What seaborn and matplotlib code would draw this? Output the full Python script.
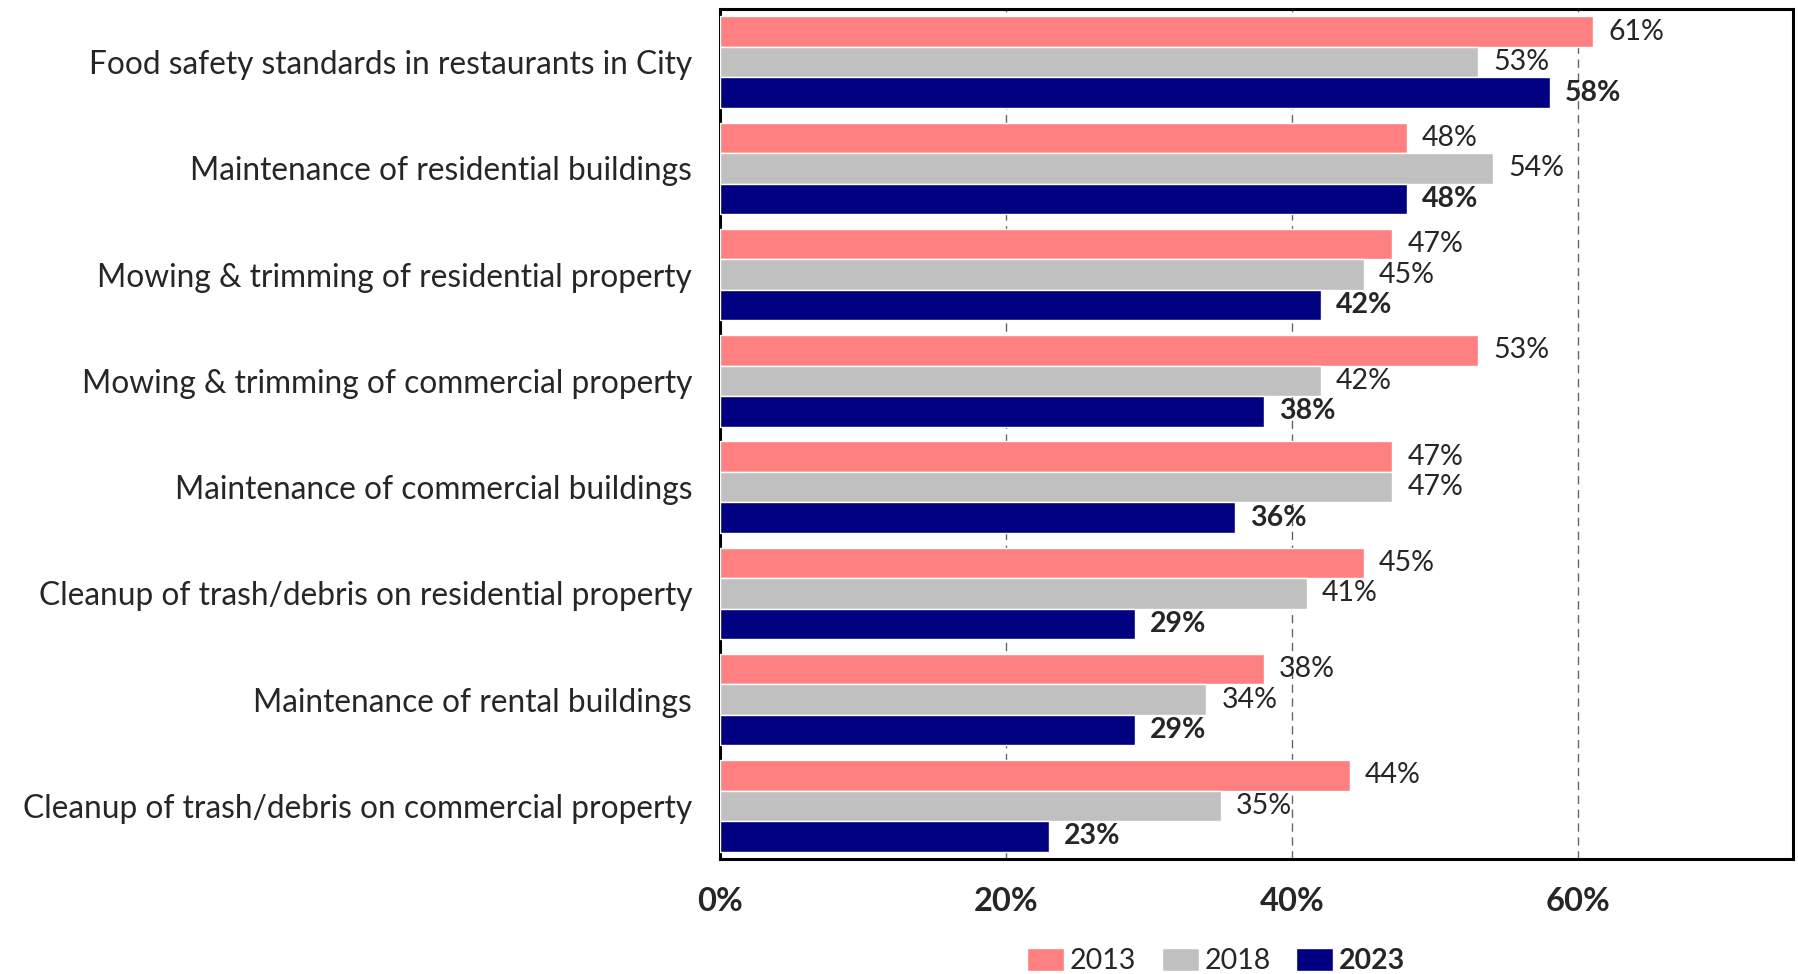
import matplotlib
matplotlib.use("Agg")
import matplotlib.pyplot as plt
import pandas as pd
import seaborn as sns

# Survey items, top to bottom
categories = [
    "Food safety standards in restaurants in City",
    "Maintenance of residential buildings",
    "Mowing & trimming of residential property",
    "Mowing & trimming of commercial property",
    "Maintenance of commercial buildings",
    "Cleanup of trash/debris on residential property",
    "Maintenance of rental buildings",
    "Cleanup of trash/debris on commercial property",
]
years = ["2013", "2018", "2023"]
values_2013 = [61, 48, 47, 53, 47, 45, 38, 44]
values_2018 = [53, 54, 45, 42, 47, 41, 34, 35]
values_2023 = [58, 48, 42, 38, 36, 29, 29, 23]
x_ticks = [0, 20, 40, 60]
x_tick_labels = ["0%", "20%", "40%", "60%"]

colors = ["#FF8080", "#C0C0C0", "#000080"]

df = pd.DataFrame({
    "item": categories * 3,
    "year": [y for y in years for _ in categories],
    "value": values_2013 + values_2018 + values_2023,
})

sns.set_style("white")
plt.rcParams["font.family"] = ["Lato", "DejaVu Sans"]

fig = plt.figure(figsize=(17.99, 9.74), dpi=100)
ax = fig.add_axes([0.4002, 0.1181, 0.5965, 0.8727])

sns.barplot(
    data=df, y="item", x="value", hue="year", order=categories,
    hue_order=years, palette=colors, orient="h", width=0.86, gap=0,
    saturation=1, ax=ax, legend=True, zorder=3,
)

ax.set_xlim(0, 75)
ax.set_ylim(7.5, -0.5)
ax.set_xticks(x_ticks)
ax.set_xticklabels(x_tick_labels, fontsize=23.5, fontweight="bold")
ax.tick_params(axis="x", length=0, pad=20)
ax.tick_params(axis="y", length=0, pad=20, labelsize=22.8)
ax.set_xlabel("")
ax.set_ylabel("")

for xv in x_ticks[1:]:
    ax.axvline(xv, color="#666666", linestyle=(0, (6, 4)), linewidth=1.0, zorder=1)

for spine in ax.spines.values():
    spine.set_visible(True)
    spine.set_color("black")
    spine.set_linewidth(2.2)

for container, year in zip(ax.containers, years):
    ax.bar_label(
        container, labels=[f"{v:.0f}%" for v in container.datavalues],
        padding=11, fontsize=20.5,
        fontweight="bold" if year == "2023" else "normal",
    )

handles, labels = ax.get_legend_handles_labels()
ax.get_legend().remove()
leg = fig.legend(
    handles, labels, loc="center", bbox_to_anchor=(0.676, 0.0135), ncol=3,
    frameon=False, fontsize=20.5, handlelength=1.3, handleheight=0.9,
    handletextpad=0.2, columnspacing=0.9,
)
leg.get_texts()[2].set_fontweight("bold")

fig.savefig("out.png", dpi=100)
